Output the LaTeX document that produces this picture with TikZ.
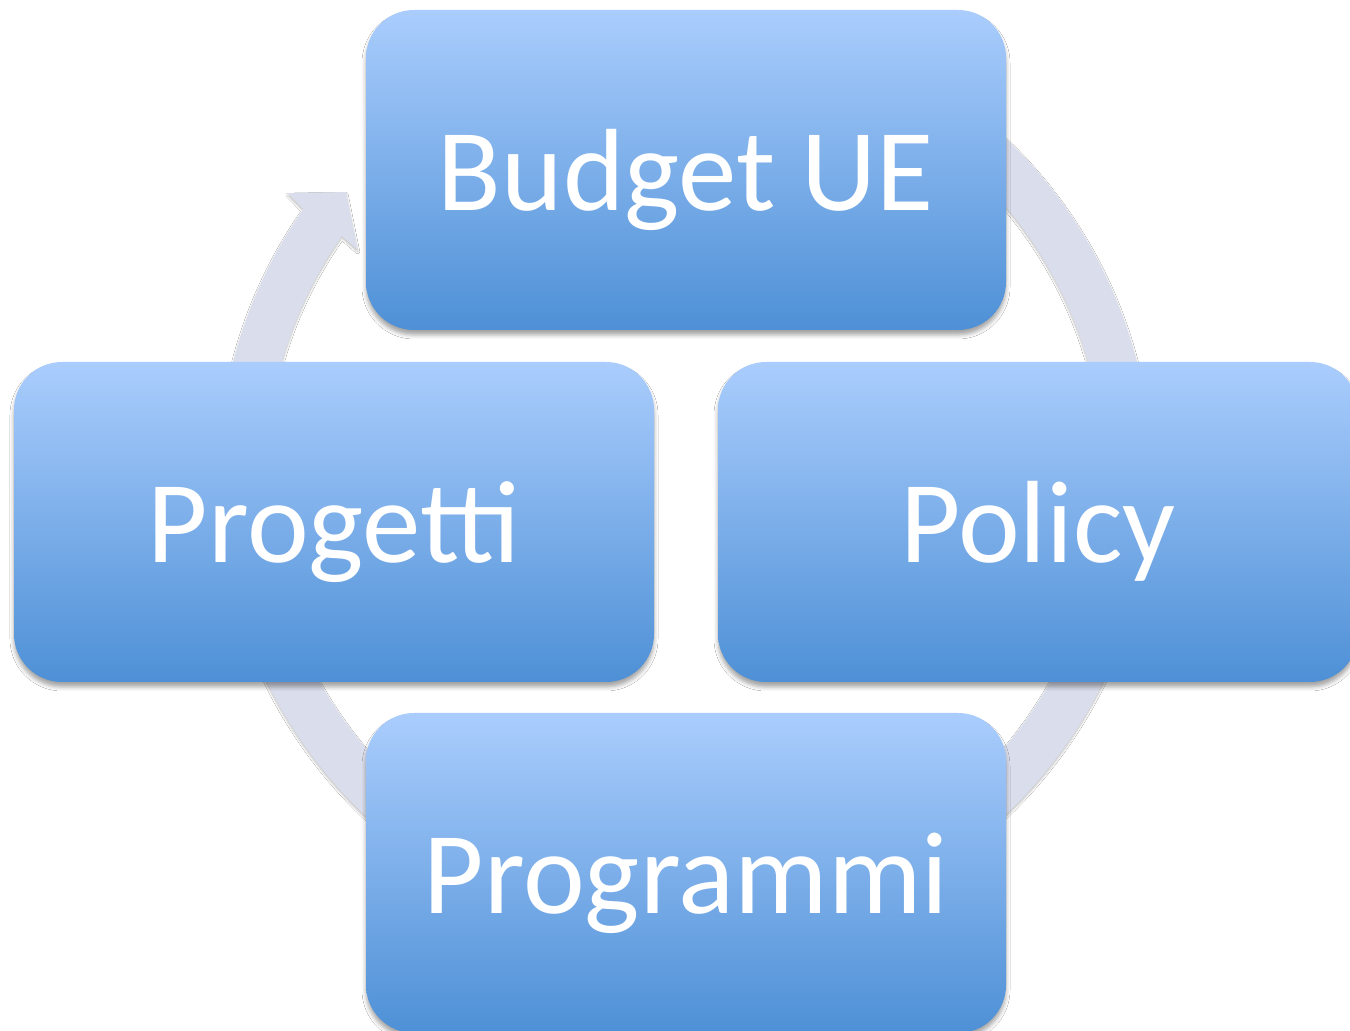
\documentclass[tikz,border=0pt]{standalone}
\usepackage{fontspec}
\newfontfamily\carlitofont{Carlito}
\usetikzlibrary{shadows.blur}
\definecolor{boxtop}{RGB}{170,205,253}
\definecolor{boxbot}{RGB}{78,144,214}
\definecolor{ringcol}{RGB}{218,222,236}
\tikzset{
  cyclebox/.style={rounded corners=48pt, minimum width=640pt, minimum height=320pt,
    top color=boxtop, bottom color=boxbot, draw=none, text=white,
    font=\carlitofont\fontsize{117}{140}\selectfont, text height=82pt, text depth=0pt, inner sep=0pt,
    blur shadow={shadow xshift=0pt, shadow yshift=-5pt, shadow blur radius=4pt, shadow opacity=35}},
  ringstyle/.style={fill=ringcol, draw=none,
    blur shadow={shadow xshift=0pt, shadow yshift=-2pt, shadow blur radius=2pt, shadow opacity=25}}
}
\begin{document}
\begin{tikzpicture}[x=1pt,y=1pt]
\clip (0,0) rectangle (1350,1031);
\fill[white] (0,0) rectangle (1350,1031);
\coordinate (c) at (685,554.5);
\path[ringstyle] ([shift={(120:466pt)}]c) arc[start angle=120,end angle=-215,radius=466pt]
  -- ([shift={(144.5:488pt)}]c) -- ([shift={(140:442.5pt)}]c) -- ([shift={(145.3:398pt)}]c)
  -- ([shift={(145:419pt)}]c) arc[start angle=-215,end angle=120,radius=419pt] -- cycle;
\node[cyclebox] (budget) at (686,861) {Budget UE};
\node[cyclebox] (progetti) at (334,509) {Progetti};
\node[cyclebox] (policy) at (1038,509) {Policy};
\node[cyclebox] (programmi) at (686,158) {Programmi};
\end{tikzpicture}
\end{document}
